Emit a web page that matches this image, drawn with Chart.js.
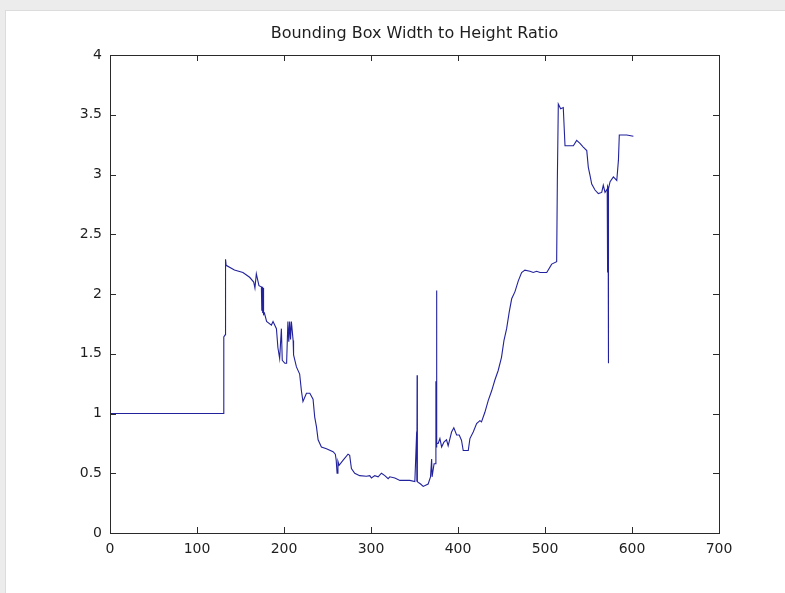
<!DOCTYPE html>
<html>
<head>
<meta charset="utf-8">
<script src="https://cdn.jsdelivr.net/npm/chart.js@4.4.1/dist/chart.umd.min.js"></script>
<style>
  html, body { margin: 0; padding: 0; width: 785px; height: 593px; overflow: hidden; background: #ececec; }
  #panel { position: absolute; left: 5px; top: 10px; right: 0; bottom: 0; background: #ffffff; border-left: 1px solid #dcdcdc; border-top: 1px solid #dcdcdc; }
  #c { position: absolute; left: 0; top: 0; }
</style>
</head>
<body>
<div id="panel"></div>
<canvas id="c" width="785" height="593"></canvas>
<script>
const TITLE = 'Bounding Box Width to Height Ratio';

// Frame index along the sequence
const frameIdx = [
  0, 130.6, 130.8, 132.6, 132.8, 133.5, 143, 152.8, 160.5, 165.2,
  166.6, 168.2, 171.2, 174, 174.5, 175, 175.5, 176, 176.5, 177.5,
  180, 185.5, 187.4, 191.3, 193, 195, 197, 198, 201, 203,
  204.5, 205.5, 206.5, 207.5, 208.5, 210.5, 211, 214.3, 218, 220,
  221.8, 225.8, 229.7, 233.4, 235.3, 237.3, 239.2, 243, 248.8, 256.4,
  259, 260, 261, 262, 263.3, 268, 273.6, 275.5, 277.5, 281.3,
  287, 294.7, 298.6, 300.5, 304.3, 308.2, 312, 315.9, 319.7, 321.6,
  327.4, 333.2, 344.6, 350.4, 352.5, 352.7, 353, 353.3, 355, 357,
  360, 365.7, 368.4, 369.7, 370.2, 372.5, 374, 374.6, 374.9, 375.3,
  375.7, 377.2, 379.2, 381.2, 383.8, 386.8, 388.7, 392.6, 395.2, 398.4,
  401.4, 404, 406, 411.8, 413.7, 417.5, 421.4, 425.2, 427, 430.9,
  434.8, 438.7, 442.4, 446.2, 450, 452.8, 455.9, 458.9, 461.7, 465.5,
  469.3, 473.1, 476.9, 482.7, 486.5, 490.4, 494.3, 502, 507.7, 513.4,
  514.2, 515.3, 518, 521, 523, 532.6, 536.4, 540.2, 544, 548,
  549.8, 551.8, 553.7, 557.5, 561.3, 565.2, 567, 569, 571.5, 571.8,
  572.1, 572.5, 572.8, 573.1, 574.8, 578.6, 582.5, 584.4, 585.4, 594,
  601.6
];

// Width / height ratio of the bounding box for each frame
const ratio = [
  1.00, 1.00, 1.64, 1.66, 2.29, 2.24, 2.20, 2.18, 2.14, 2.10,
  2.05, 2.17, 2.07, 2.06, 1.86, 2.06, 1.84, 2.05, 1.83, 1.84,
  1.77, 1.74, 1.77, 1.71, 1.55, 1.46, 1.71, 1.445, 1.42, 1.42,
  1.77, 1.60, 1.77, 1.62, 1.77, 1.61, 1.49, 1.39, 1.33, 1.19,
  1.10, 1.17, 1.17, 1.12, 0.97, 0.89, 0.78, 0.72, 0.705, 0.68,
  0.66, 0.61, 0.50, 0.60, 0.567, 0.61, 0.66, 0.65, 0.54, 0.50,
  0.48, 0.475, 0.48, 0.46, 0.48, 0.47, 0.50, 0.48, 0.455, 0.47,
  0.46, 0.44, 0.44, 0.43, 0.85, 0.43, 1.32, 0.43, 0.42, 0.41,
  0.39, 0.41, 0.47, 0.62, 0.47, 0.58, 0.58, 1.27, 0.72, 2.03,
  0.75, 0.75, 0.79, 0.72, 0.76, 0.78, 0.73, 0.845, 0.88, 0.82,
  0.82, 0.776, 0.69, 0.69, 0.79, 0.845, 0.915, 0.94, 0.93, 1.01,
  1.11, 1.19, 1.28, 1.36, 1.47, 1.61, 1.71, 1.85, 1.96, 2.02,
  2.11, 2.18, 2.20, 2.19, 2.18, 2.19, 2.18, 2.18, 2.25, 2.27,
  2.95, 3.59, 3.55, 3.56, 3.24, 3.24, 3.285, 3.26, 3.23, 3.20,
  3.06, 2.99, 2.92, 2.87, 2.84, 2.85, 2.91, 2.85, 2.88, 2.18,
  2.90, 2.89, 1.42, 2.88, 2.94, 2.98, 2.95, 3.12, 3.33, 3.33,
  3.32
];

const xTicks = [0, 100, 200, 300, 400, 500, 600, 700];
const yTicks = [0, 0.5, 1, 1.5, 2, 2.5, 3, 3.5, 4];

const points = frameIdx.map((x, i) => ({ x: x, y: ratio[i] }));

const tickFont = { family: '"DejaVu Sans"', size: 14 };
const inkColor = '#1e1e1e';

// Axes box, inward tick marks on all four sides, and the title above the plot
const axesFrame = {
  id: 'axesFrame',
  afterDraw(chart) {
    const ctx = chart.ctx;
    const a = chart.chartArea;
    const xs = chart.scales.x, ys = chart.scales.y;
    const len = 6;
    ctx.save();
    ctx.strokeStyle = '#2a2a2a';
    ctx.lineWidth = 1;
    ctx.strokeRect(a.left + 0.5, a.top + 0.5, a.right - a.left, a.bottom - a.top);
    ctx.beginPath();
    xTicks.forEach(v => {
      const p = Math.round(xs.getPixelForValue(v)) + 0.5;
      ctx.moveTo(p, a.bottom); ctx.lineTo(p, a.bottom - len);
      ctx.moveTo(p, a.top); ctx.lineTo(p, a.top + len);
    });
    yTicks.forEach(v => {
      const p = Math.round(ys.getPixelForValue(v)) + 0.5;
      ctx.moveTo(a.left, p); ctx.lineTo(a.left + len, p);
      ctx.moveTo(a.right, p); ctx.lineTo(a.right - len, p);
    });
    ctx.stroke();
    ctx.fillStyle = inkColor;
    ctx.font = '16px "DejaVu Sans"';
    ctx.textAlign = 'center';
    ctx.textBaseline = 'middle';
    ctx.fillText(TITLE, (a.left + a.right) / 2, 34);
    ctx.restore();
  }
};

new Chart(document.getElementById('c'), {
  type: 'line',
  data: {
    datasets: [{
      data: points,
      borderColor: '#22229c',
      borderWidth: 1.1,
      pointRadius: 0,
      tension: 0,
      fill: false
    }]
  },
  options: {
    responsive: false,
    animation: false,
    devicePixelRatio: 1,
    layout: { padding: { left: 0, top: 55, right: 66, bottom: 0 } },
    plugins: { legend: { display: false }, tooltip: { enabled: false }, title: { display: false } },
    scales: {
      x: {
        type: 'linear',
        min: 0, max: 700,
        afterBuildTicks: s => { s.ticks = xTicks.map(v => ({ value: v })); },
        afterFit: s => { s.height = 60; },
        grid: { display: false, drawTicks: false },
        border: { display: false },
        ticks: { font: tickFont, color: inkColor, padding: 8, maxRotation: 0, autoSkip: false, callback: v => String(v) }
      },
      y: {
        type: 'linear',
        min: 0, max: 4,
        afterBuildTicks: s => { s.ticks = yTicks.map(v => ({ value: v })); },
        afterFit: s => { s.width = 110; },
        grid: { display: false, drawTicks: false },
        border: { display: false },
        ticks: { font: tickFont, color: inkColor, padding: 8, autoSkip: false, callback: v => String(v) }
      }
    }
  },
  plugins: [axesFrame]
});
</script>
</body>
</html>
